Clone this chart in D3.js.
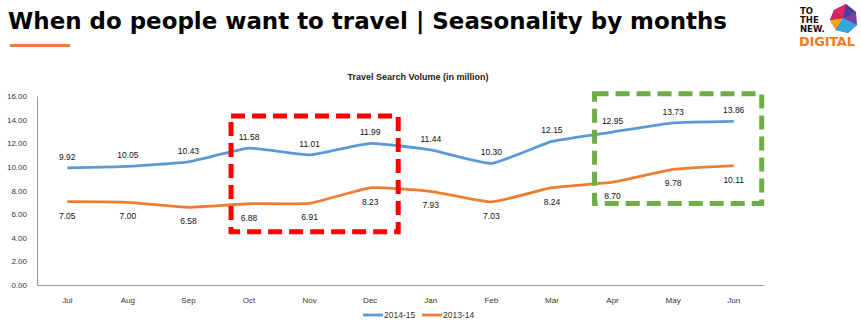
<!DOCTYPE html>
<html><head><meta charset="utf-8">
<script src="https://cdn.jsdelivr.net/npm/d3@7"></script>
<style>body{margin:0;background:#fff;} svg{display:block;}</style>
</head><body>
<svg id="c" width="861" height="333"></svg>
<script>
const months = ["Jul","Aug","Sep","Oct","Nov","Dec","Jan","Feb","Mar","Apr","May","Jun"];
const series2014 = [9.92,10.05,10.43,11.58,11.01,11.99,11.44,10.30,12.15,12.95,13.73,13.86];
const series2013 = [7.05,7.00,6.58,6.88,6.91,8.23,7.93,7.03,8.24,8.70,9.78,10.11];
const seriesNames = ["2014-15","2013-14"];
const yTicks = [0,2,4,6,8,10,12,14,16];
const redBoxRange = ["Oct","Dec"];
const greenBoxRange = ["Apr","Jun"];

const svg = d3.select("#c");
const W=861,H=333;
const m={l:37,r:97,t:96,b:48};
const x = d3.scaleBand().domain(months).range([m.l, W-m.r]);
const y = d3.scaleLinear().domain([0,16]).range([H-m.b, m.t]);
const cx = d => x(d)+x.bandwidth()/2;

// Title
svg.append("text").attr("x",8).attr("y",29).attr("font-family","DejaVu Sans").attr("font-weight","bold")
  .attr("font-size",23.5).attr("fill","#000").attr("textLength",719).attr("lengthAdjust","spacingAndGlyphs")
  .text("When do people want to travel | Seasonality by months");
svg.append("rect").attr("x",10).attr("y",44).attr("width",60).attr("height",3).attr("fill","#ED7D31");

// Logo
const lg = svg.append("g").attr("font-family","DejaVu Sans").attr("font-weight","bold");
lg.append("text").attr("x",800).attr("y",14).attr("font-size",8.5).attr("fill","#111").text("TO");
lg.append("text").attr("x",800).attr("y",23).attr("font-size",8.5).attr("fill","#111").text("THE");
lg.append("text").attr("x",800).attr("y",32).attr("font-size",8.5).attr("fill","#111").text("NEW.");
lg.append("text").attr("x",799).attr("y",46).attr("font-size",13).attr("fill","#F27B21").attr("textLength",56).text("DIGITAL");
const poly = [[834,10],[846,4],[856,12],[857,25],[848,33],[836,30],[830,20]];
svg.append("polygon").attr("points",poly.map(p=>p.join(",")).join(" ")).attr("fill","#7B3FA0");
svg.append("polygon").attr("points","834,10 846,4 843,18").attr("fill","#E6245E");
svg.append("polygon").attr("points","846,4 856,12 843,18").attr("fill","#4B3D9C");
svg.append("polygon").attr("points","830,20 843,18 836,30").attr("fill","#F7A21B");
svg.append("polygon").attr("points","843,18 857,25 848,33 836,30").attr("fill","#2FA8E0");
svg.append("polygon").attr("points","834,10 843,18 830,20").attr("fill","#D1235C");

// Chart title
svg.append("text").attr("x",418).attr("y",80).attr("text-anchor","middle").attr("font-family","Liberation Sans, Arial")
  .attr("font-weight","bold").attr("font-size",9).attr("fill","#222").text("Travel Search Volume (in million)");

// Axes
const yAxis = d3.axisLeft(y).tickValues(yTicks).tickFormat(d3.format(".2f")).tickSize(0).tickPadding(10);
const gy = svg.append("g").attr("transform",`translate(${m.l},0)`).call(yAxis);
gy.select(".domain").attr("stroke","#999");
gy.selectAll("text").attr("font-family","Liberation Sans, Arial").attr("font-size",8).attr("fill","#333");
const xAxis = d3.axisBottom(x).tickSize(0).tickPadding(12);
const gx = svg.append("g").attr("transform",`translate(0,${H-m.b})`).call(xAxis);
gx.select(".domain").attr("stroke","#999");
gx.selectAll("text").attr("font-family","Liberation Sans, Arial").attr("font-size",8).attr("fill","#333");

// Lines
const line = d3.line().x((d,i)=>cx(months[i])).y(d=>y(d)).curve(d3.curveCardinal.tension(0.6));
svg.append("path").datum(series2013).attr("d",line).attr("fill","none").attr("stroke","#ED7D31").attr("stroke-width",2.8);
svg.append("path").datum(series2014).attr("d",line).attr("fill","none").attr("stroke","#5B9BD5").attr("stroke-width",2.8);

// Labels
const lab = (data, dy) => svg.append("g").selectAll("text").data(data).join("text")
  .attr("x",(d,i)=>cx(months[i])).attr("y",d=>y(d)+dy).attr("text-anchor","middle")
  .attr("font-family","Liberation Sans, Arial").attr("font-size",8.5).attr("fill","#111").text(d=>d3.format(".2f")(d));
lab(series2014,-8);
lab(series2013,17);

// Highlight boxes
function box(range, y0, y1, color){
  const x0 = cx(range[0]) - 18, x1 = cx(range[1]) + 28;
  svg.append("rect").attr("x",x0).attr("y",y(y0)).attr("width",x1-x0).attr("height",y(y1)-y(y0))
    .attr("fill","none").attr("stroke",color).attr("stroke-width",5).attr("stroke-dasharray","14,7");
}
box(redBoxRange, 14.3, 4.5, "#FF0000");
box(greenBoxRange, 16.2, 6.9, "#70AD47");

// Legend
const colors = ["#5B9BD5","#ED7D31"];
const leg = svg.append("g").attr("font-family","Liberation Sans, Arial").attr("font-size",8.5).attr("fill","#333");
seriesNames.forEach((n,i)=>{
  const lx = 363 + i*59;
  leg.append("line").attr("x1",lx).attr("x2",lx+20).attr("y1",315).attr("y2",315).attr("stroke",colors[i]).attr("stroke-width",2.8);
  leg.append("text").attr("x",lx+21).attr("y",318).text(n);
});
</script>
</body></html>
